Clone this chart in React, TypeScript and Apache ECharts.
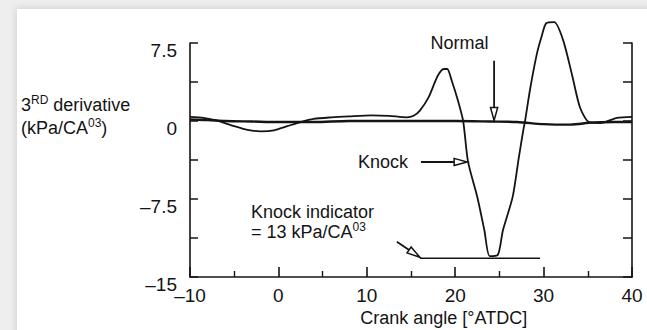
import React, { useEffect, useRef } from "react";
import * as echarts from "echarts";

// Crank angle [°ATDC] values and 3rd derivative values (kPa/CA^3)
const knockX = [-10, -8.5, -7, -5, -3.5, -2, -0.5, 1, 2.5, 4, 6, 8, 10.5, 12.5, 14.5, 15.3, 16, 17, 18, 18.7, 19.1, 19.6, 20.3, 20.9, 21.45, 22.5, 23.3, 23.9, 24.8, 25.4, 26.5, 27.2, 27.7, 27.9, 28.5, 29.25, 29.8, 30.3, 31.2, 32.2, 33.2, 34.1, 35.1, 36.4, 38.3, 40];
const knockY = [0.4, 0.3, 0.05, -0.5, -0.85, -1.0, -0.9, -0.5, -0.1, 0.2, 0.35, 0.45, 0.55, 0.5, 0.35, 0.5, 1.0, 2.3, 4.3, 5.0, 5.0, 3.9, 2.0, 0.0, -3.9, -7.3, -10.5, -13.0, -12.9, -10.5, -7.3, -3.5, -0.9, 0.0, 3.2, 6.5, 8.2, 9.4, 9.5, 7.8, 4.5, 1.35, -0.1, -0.2, 0.3, 0.4];
const normalX = [-10, -8, -6, -3, 0, 4, 8, 12, 16, 20, 24, 27, 30, 33, 35.5, 38, 40];
const normalY = [0.15, 0.1, 0.0, -0.05, -0.1, -0.1, 0.0, 0.0, 0.0, 0.0, -0.05, -0.1, -0.3, -0.35, -0.15, -0.1, -0.1];
const indicatorX = [16.0, 29.6];
const indicatorY = [-13.2, -13.2];

const xTicks = { min: -10, max: 40, interval: 10 };
const yTicks = { min: -15, max: 7.5, interval: 3.75 };
const yTickLabels: Record<string, string> = { "7.5": "7.5", "0": "0", "-7.5": "–7.5", "-15": "–15" };

const FONT = "'Liberation Sans', Arial, Helvetica, sans-serif";
const INK = "#141414";

function zip(xs: number[], ys: number[]) {
  return xs.map((x, i) => [x, ys[i]]);
}

export default function App() {
  const ref = useRef<HTMLDivElement>(null);
  useEffect(() => {
    const chart = echarts.init(ref.current!, null, { renderer: "svg" });
    chart.setOption({
      animation: false,
      backgroundColor: "transparent",
      grid: { left: 190, right: 15, top: 43, bottom: 53 },
      xAxis: {
        type: "value",
        min: xTicks.min,
        max: xTicks.max,
        interval: xTicks.interval,
        axisLine: { show: true, onZero: false, lineStyle: { color: INK, width: 1.6 } },
        axisTick: { show: true, inside: true, length: 10, lineStyle: { color: INK, width: 1.6 } },
        minorTick: { show: true, splitNumber: 2, length: 6, lineStyle: { color: INK, width: 1.4 } },
        splitLine: { show: false },
        minorSplitLine: { show: false },
        axisLabel: {
          color: INK,
          fontSize: 19,
          fontFamily: FONT,
          margin: 9,
          formatter: (v: number) => (v < 0 ? "–" + Math.abs(v) : String(v)),
        },
      },
      yAxis: [
        {
          type: "value",
          min: yTicks.min,
          max: yTicks.max,
          interval: yTicks.interval,
          axisLine: { show: true, onZero: false, lineStyle: { color: INK, width: 1.6 } },
          axisTick: { show: true, inside: true, length: 8, lineStyle: { color: INK, width: 1.5 } },
          splitLine: { show: false },
          axisLabel: {
            color: INK,
            fontSize: 19,
            fontFamily: FONT,
            margin: 13,
            verticalAlign: "top",
            lineHeight: 15,
            formatter: (v: number) => yTickLabels[String(v)] ?? "",
          },
        },
        {
          type: "value",
          position: "right",
          min: yTicks.min,
          max: yTicks.max,
          interval: yTicks.interval,
          axisLine: { show: true, onZero: false, lineStyle: { color: INK, width: 1.6 } },
          axisTick: { show: true, inside: true, length: 9, lineStyle: { color: INK, width: 1.5 } },
          splitLine: { show: false },
          axisLabel: { show: false },
        },
      ],
      series: [
        {
          type: "line",
          name: "Normal",
          data: zip(normalX, normalY),
          showSymbol: false,
          smooth: 0.3,
          clip: false,
          lineStyle: { color: INK, width: 2.4 },
        },
        {
          type: "line",
          name: "Knock",
          data: zip(knockX, knockY),
          showSymbol: false,
          smooth: 0.25,
          clip: false,
          lineStyle: { color: INK, width: 1.8 },
        },
        {
          type: "line",
          name: "Knock indicator",
          data: zip(indicatorX, indicatorY),
          showSymbol: false,
          clip: false,
          lineStyle: { color: INK, width: 1.5 },
        },
      ],
    });

    const p = (x: number, y: number) => chart.convertToPixel({ seriesIndex: 0 }, [x, y]) as number[];

    const arrow = (a: number[], b: number[]) => {
      const dx = b[0] - a[0];
      const dy = b[1] - a[1];
      const len = Math.hypot(dx, dy);
      const ux = dx / len;
      const uy = dy / len;
      const hl = 13;
      const hw = 3.6;
      const bx = b[0] - ux * hl;
      const by = b[1] - uy * hl;
      const nx = -uy;
      const ny = ux;
      return [
        { type: "line", shape: { x1: a[0], y1: a[1], x2: bx, y2: by }, style: { stroke: INK, lineWidth: 1.8 } },
        {
          type: "polygon",
          shape: { points: [[b[0], b[1]], [bx + nx * hw, by + ny * hw], [bx - nx * hw, by - ny * hw]] },
          style: { fill: "#fff", stroke: INK, lineWidth: 1.5 },
        },
      ];
    };

    const txt = (pos: number[], text: string, align: string = "left", rich?: any) => ({
      type: "text",
      x: pos[0],
      y: pos[1],
      style: {
        text,
        fill: INK,
        font: `18px ${FONT}`,
        fontSize: 18,
        fontFamily: FONT,
        align,
        verticalAlign: "middle",
        rich,
      },
    });

    const rich = {
      b: { fontSize: 18, fontFamily: FONT, fill: INK, color: INK, lineHeight: 23, verticalAlign: "middle" },
      s: { fontSize: 12, fontFamily: FONT, fill: INK, color: INK, lineHeight: 23, verticalAlign: "top", padding: [1, 0, 0, 0] },
    };

    const graphic: any[] = [
      txt(p(17.2, 7.5), "Normal"),
      ...arrow(p(24.4, 5.8), p(24.4, 0.05)),
      txt(p(9.0, -3.94), "Knock"),
      ...arrow(p(16.13, -3.94), p(21.35, -3.94)),
      txt(p(-3.1, -8.72), "Knock indicator"),
      txt(p(-3.1, -10.64), "{b|= 13 kPa/CA}{s|03}", "left", rich),
      ...arrow(p(13.4, -11.6), p(16.0, -13.1)),
      txt(p(18.7, -18.9), "Crank angle [°ATDC]", "center"),
      {
        type: "text",
        x: 21,
        y: 93,
        style: {
          text: "{b|3}{s|RD}{b| derivative}\n{b|(kPa/CA}{s|03}{b|)}",
          rich,
          fill: INK,
          align: "left",
          verticalAlign: "top",
        },
      },
    ];
    chart.setOption({ graphic });
    return () => chart.dispose();
  }, []);

  return (
    <div style={{ position: "fixed", left: 0, top: 0, width: 647, height: 330, background: "#eeeeee", overflow: "hidden" }}>
      <div
        style={{
          position: "absolute",
          left: 17,
          top: 9,
          width: 680,
          height: 360,
          background: "#ffffff",
          boxShadow: "0 0 8px rgba(0,0,0,0.16)",
        }}
      />
      <div ref={ref} style={{ position: "absolute", left: 0, top: 0, width: 647, height: 330 }} />
    </div>
  );
}
